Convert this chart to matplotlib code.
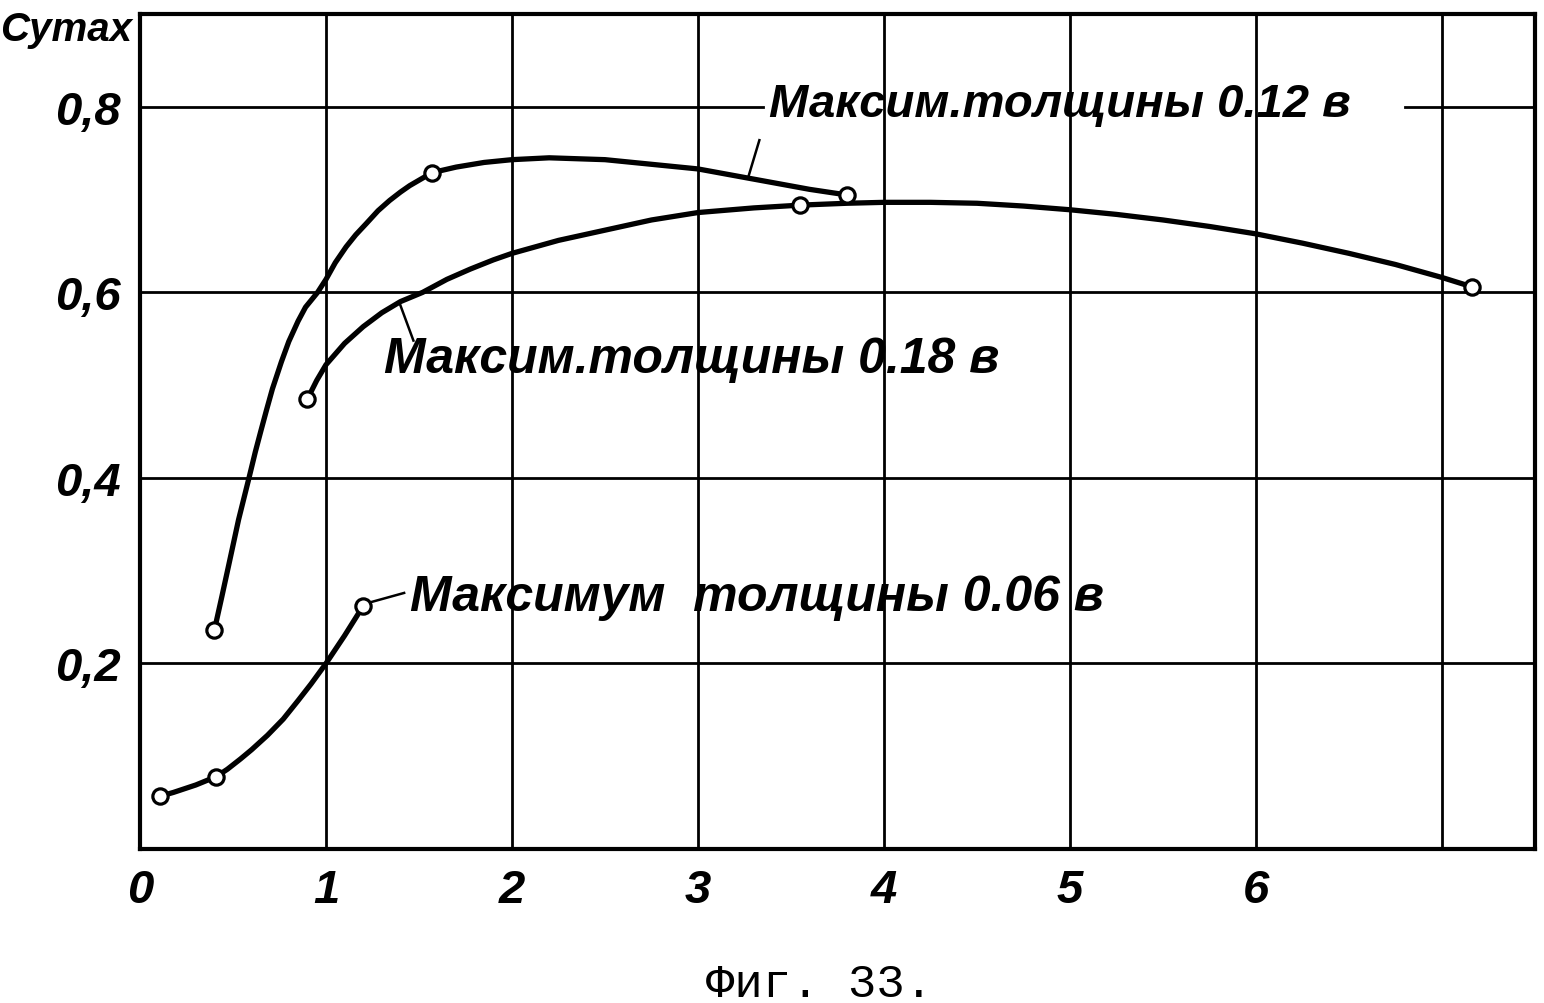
import matplotlib
matplotlib.use("Agg")
import matplotlib.pyplot as plt

# ---- data ----
# measured points (open circles)
x_006 = [0.11, 0.41, 1.20]
y_006 = [0.057, 0.078, 0.262]
x_012 = [0.40, 1.57, 3.80]
y_012 = [0.236, 0.729, 0.705]
x_018 = [0.90, 3.55, 7.16]
y_018 = [0.485, 0.694, 0.606]

# traced faired curves
cx_006 = [0.11, 0.18, 0.30, 0.41, 0.47, 0.54, 0.60, 0.685, 0.77, 0.85, 0.92, 1.00, 1.10, 1.20]
cy_006 = [0.057, 0.061, 0.069, 0.078, 0.086, 0.097, 0.107, 0.1225, 0.140, 0.160, 0.178, 0.200, 0.230, 0.262]
cx_012 = [0.40, 0.44, 0.477, 0.53, 0.586, 0.62, 0.649, 0.68, 0.712, 0.76, 0.80, 0.85, 0.89, 0.955, 1.00,
          1.05, 1.108, 1.16, 1.216, 1.28, 1.342, 1.40, 1.45, 1.51, 1.57, 1.70, 1.85, 2.00,
          2.20, 2.50, 2.80, 3.00, 3.30, 3.60, 3.80]
cy_012 = [0.236, 0.272, 0.306, 0.355, 0.400, 0.428, 0.450, 0.473, 0.496, 0.525, 0.547, 0.569, 0.584, 0.600, 0.614,
          0.632, 0.649, 0.662, 0.674, 0.688, 0.699, 0.708, 0.715, 0.722, 0.729, 0.735, 0.740, 0.743,
          0.745, 0.743, 0.737, 0.733, 0.722, 0.711, 0.705]
cx_018 = [0.90, 0.95, 1.00, 1.10, 1.20, 1.30, 1.40, 1.52, 1.65, 1.775, 1.90, 2.00, 2.25, 2.50,
          2.75, 3.00, 3.30, 3.55, 3.80, 4.00, 4.25, 4.50, 4.75, 5.00, 5.25, 5.50, 5.75, 6.00,
          6.25, 6.50, 6.75, 7.00, 7.16]
cy_018 = [0.485, 0.505, 0.522, 0.545, 0.563, 0.578, 0.590, 0.600, 0.614, 0.625, 0.635, 0.642, 0.656, 0.667,
          0.678, 0.686, 0.691, 0.694, 0.696, 0.697, 0.697, 0.696, 0.693, 0.689, 0.684, 0.678, 0.671, 0.663,
          0.653, 0.642, 0.630, 0.616, 0.606]

x_ticks = [0, 1, 2, 3, 4, 5, 6]
x_ticklabels = ["0", "1", "2", "3", "4", "5", "6"]
y_ticks = [0.2, 0.4, 0.6, 0.8]
y_ticklabels = ["0,2", "0,4", "0,6", "0,8"]
x_grid = [1, 2, 3, 4, 5, 6, 7]
y_grid = [0.2, 0.4, 0.6]

label_012 = "Максим.толщины 0.12 в"
label_018 = "Максим.толщины 0.18 в"
label_006 = "Максимум  толщины 0.06 в"
y_name = "Cymax"
caption = "Фиг. 33."

# ---- figure ----
fig = plt.figure(figsize=(15.44, 10.04), dpi=100)
ax = fig.add_axes([140/1544, 154/1004, 1395/1544, 835/1004])
ax.set_xlim(0, 7.5)
ax.set_ylim(0, 0.9)

for s in ax.spines.values():
    s.set_linewidth(3.0)
    s.set_color("black")

for gx in x_grid:
    ax.axvline(gx, color="black", lw=2.0, zorder=1)
for gy in y_grid:
    ax.axhline(gy, color="black", lw=2.0, zorder=1)
# 0.8 gridline interrupted by the label
ax.plot([0, 3.35], [0.8, 0.8], color="black", lw=2.0, zorder=1)
ax.plot([6.8, 7.5], [0.8, 0.8], color="black", lw=2.0, zorder=1)

lw = 3.8
for cx, cy in [(cx_006, cy_006), (cx_012, cy_012), (cx_018, cy_018)]:
    ax.plot(cx, cy, color="black", lw=lw, zorder=3,
            solid_capstyle="round", solid_joinstyle="round")

mk = dict(linestyle="none", marker="o", markersize=11, markerfacecolor="white",
          markeredgecolor="black", markeredgewidth=2.3, zorder=5)
ax.plot(x_006, y_006, **mk)
ax.plot(x_012, y_012, **mk)
ax.plot(x_018, y_018, **mk)

# leader lines
ax.plot([3.27, 3.33], [0.724, 0.764], color="black", lw=1.8, zorder=3)
ax.plot([1.40, 1.47], [0.586, 0.548], color="black", lw=1.8, zorder=3)
ax.plot([1.24, 1.42], [0.266, 0.276], color="black", lw=1.8, zorder=3)

tfont = dict(family=["Liberation Sans", "DejaVu Sans"], style="italic", fontweight="bold",
             color="black", va="center", ha="left", zorder=4)
ax.text(3.38, 0.803, label_012, fontsize=34, **tfont)
ax.text(1.31, 0.528, label_018, fontsize=36, **tfont)
ax.text(1.45, 0.272, label_006, fontsize=36, **tfont)

ax.set_xticks(x_ticks)
ax.set_xticklabels(x_ticklabels)
ax.set_yticks(y_ticks)
ax.set_yticklabels(y_ticklabels)
ax.tick_params(length=0, pad=14)
for t in ax.get_xticklabels() + ax.get_yticklabels():
    t.set_fontfamily(["Liberation Sans", "DejaVu Sans"])
    t.set_fontstyle("italic")
    t.set_fontweight("bold")
    t.set_fontsize(34)

fig.text(0/1544, 1 - 30/1004, y_name, family=["Liberation Sans", "DejaVu Sans"],
         style="italic", fontweight="bold", fontsize=29, ha="left", va="center")
fig.text(820/1544, 1 - 985/1004, caption, family=["Liberation Mono", "DejaVu Sans Mono"],
         fontsize=34, ha="center", va="center")

fig.savefig("out.png", dpi=100, facecolor="white")
